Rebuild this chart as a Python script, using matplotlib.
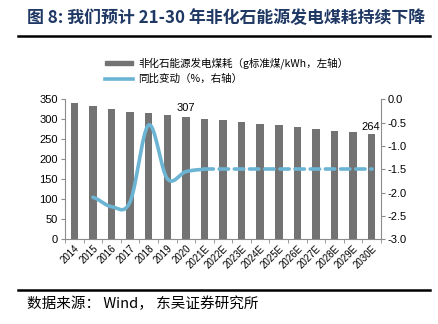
import matplotlib
matplotlib.use("Agg")
import matplotlib.pyplot as plt
import numpy as np

plt.rcParams['font.family'] = ['Liberation Sans', 'Noto Sans CJK SC', 'DejaVu Sans']

# data
years = ['2014', '2015', '2016', '2017', '2018', '2019', '2020', '2021E', '2022E', '2023E',
         '2024E', '2025E', '2026E', '2027E', '2028E', '2029E', '2030E']
coal_use = [340, 333, 325, 318, 316, 311, 307, 302, 298, 293, 289, 285, 280, 276, 272, 268, 264]
yoy_change = [np.nan, -2.1, -2.3, -2.2, -0.55, -1.7, -1.55, -1.5, -1.5, -1.5, -1.5, -1.5,
              -1.5, -1.5, -1.5, -1.5, -1.5]

bar_color = '#737373'
line_color = '#6cb4d4'
axis_color = '#8c8c8c'


def smooth(x, y, n=30):
    # Excel-like smoothed line (Catmull-Rom through the points)
    x = np.asarray(x, float)
    y = np.asarray(y, float)
    px = np.concatenate([[2 * x[0] - x[1]], x, [2 * x[-1] - x[-2]]])
    py = np.concatenate([[y[0]], y, [y[-1]]])
    xs, ys = [], []
    for i in range(1, len(px) - 2):
        t = np.linspace(0, 1, n)
        for p, out in ((px, xs), (py, ys)):
            p0, p1, p2, p3 = p[i - 1], p[i], p[i + 1], p[i + 2]
            c1 = p1 + (p2 - p0) / 6
            c2 = p2 - (p3 - p1) / 6
            out.extend((1 - t) ** 3 * p1 + 3 * (1 - t) ** 2 * t * c1 + 3 * (1 - t) * t ** 2 * c2 + t ** 3 * p2)
    return np.array(xs), np.array(ys)


fig = plt.figure(figsize=(4.39, 3.24), dpi=100)
ax = fig.add_axes([0.148, 0.2614, 0.72, 0.4321])
x = np.arange(len(years))

ax.bar(x, coal_use, width=0.4, color=bar_color, zorder=2)
ax.set_xlim(-0.5, len(years) - 0.5)
ax.set_ylim(0, 350)
ax.set_yticks(np.arange(0, 351, 50))
ax.set_xticks(x)
ax.set_xticklabels(years, rotation=45, ha='right', rotation_mode='anchor', fontsize=7)
ax.set_xticks(np.arange(-0.5, len(years), 1), minor=True)
ax.tick_params(axis='x', which='major', length=0, pad=3)
ax.tick_params(axis='x', which='minor', length=3, color=axis_color, direction='out')
ax.tick_params(axis='y', labelsize=8, length=3, color=axis_color, pad=2)
for s in ['top', 'right']:
    ax.spines[s].set_visible(False)
for s in ['left', 'bottom']:
    ax.spines[s].set_color(axis_color)

ax.text(x[6], coal_use[6] + 8, str(coal_use[6]), ha='center', va='bottom', fontsize=8)
ax.text(x[-1] - 0.05, coal_use[-1] + 5, str(coal_use[-1]), ha='center', va='bottom', fontsize=8)

ax2 = ax.twinx()
ax2.set_ylim(-3.0, 0.0)
ax2.set_yticks(np.arange(-3.0, 0.01, 0.5))
ax2.set_yticklabels([f'{v:.1f}' for v in np.arange(-3.0, 0.01, 0.5)])
ax2.tick_params(axis='y', labelsize=8, length=3, color=axis_color, pad=2)
for s in ['top', 'left', 'bottom']:
    ax2.spines[s].set_visible(False)
ax2.spines['right'].set_color(axis_color)

solid_end = years.index('2021E')
sx, sy = smooth(x[1:solid_end + 1], yoy_change[1:solid_end + 1])
ax2.plot(sx, sy, color=line_color, lw=2.6, solid_capstyle='round', zorder=3)
ax2.plot(x[solid_end:], yoy_change[solid_end:], color=line_color, lw=2.6,
         dashes=(2.6, 1.6), dash_capstyle='round', zorder=3)

# legend
lx = 0.24
fig.patches.append(plt.Rectangle((lx, 1 - 65 / 324), 0.063, 4 / 324, transform=fig.transFigure,
                                 color=bar_color))
fig.text(lx + 0.075, 1 - 63 / 324, '非化石能源发电煤耗（g标准煤/kWh，左轴）', fontsize=7.6, va='center',
         family=['Noto Sans CJK SC', 'DejaVu Sans'])
fig.lines.append(plt.Line2D([lx, lx + 0.063], [1 - 79 / 324] * 2, transform=fig.transFigure,
                            color=line_color, lw=2.6))
fig.text(lx + 0.075, 1 - 79 / 324, '同比变动（%，右轴）', fontsize=7.6, va='center',
         family=['Noto Sans CJK SC', 'DejaVu Sans'])

# title and source
fig.text(0.062, 1 - 18 / 324, '图 8: 我们预计 21-30 年非化石能源发电煤耗持续下降', fontsize=12.2,
         fontweight='bold', color='#1f3864', va='center', family=['Noto Sans CJK SC', 'DejaVu Sans'])
fig.lines.append(plt.Line2D([0.042, 0.98], [1 - 36 / 324] * 2, transform=fig.transFigure,
                            color='black', lw=1.8))
fig.lines.append(plt.Line2D([0.042, 0.98], [1 - 290 / 324] * 2, transform=fig.transFigure,
                            color='black', lw=1.8))
fig.text(0.062, 1 - 304 / 324, '数据来源： Wind， 东吴证券研究所', fontsize=10.5, va='center',
         family=['Noto Sans CJK SC', 'DejaVu Sans'])

fig.savefig('out.png', dpi=100)
